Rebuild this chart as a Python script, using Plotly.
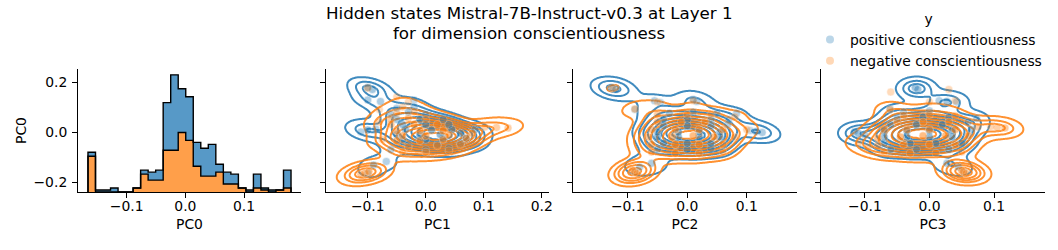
import numpy as np
import plotly.graph_objects as go

# ---------------- data ----------------
TITLE_LINES = ["Hidden states Mistral-7B-Instruct-v0.3 at Layer 1", "for dimension conscientiousness"]
hue_labels = ["positive conscientiousness", "negative conscientiousness"]
legend_title = "y"
dim_names = ["PC0", "PC1", "PC2", "PC3"]

# x tick labels per panel
p1_ticks = [-0.1, 0.0, 0.1]
p1_ticktext = ["−0.1", "0.0", "0.1"]
p2_ticks = [-0.1, 0.0, 0.1, 0.2]
p2_ticktext = ["−0.1", "0.0", "0.1", "0.2"]
p3_ticks = [-0.1, 0.0, 0.1]
p3_ticktext = ["−0.1", "0.0", "0.1"]
p4_ticks = [-0.1, 0.0, 0.1]
p4_ticktext = ["−0.1", "0.0", "0.1"]
y_ticks = [-0.2, 0.0, 0.2]
y_ticktext = ["−0.2", "0.0", "0.2"]

# PC0 histogram (stacked step), 27 bins
hist_lo, hist_hi, hist_nbins = -0.166, 0.180, 27
hist_pos_counts = [2, 1, 1, 2, 0, 0, 0, 2, 4, 5, 24, 38, 22, 22, 12, 14, 16, 4, 6, 5, 0, 1, 7, 1, 1, 0, 9]
hist_neg_counts = [18, 0, 0, 0, 0, 0, 2, 9, 6, 6, 21, 21, 30, 26, 13, 8, 8, 10, 4, 4, 2, 0, 2, 1, 0, 1, 2]

# PC1 vs PC0 : (x, y, weight)
pc1_pos_x = [-0.100, -0.092, -0.100, -0.078, -0.020, -0.100, -0.112, -0.086, -0.100, -0.068, -0.090,
             -0.06, 0.00, 0.04, -0.03, 0.02, 0.06, -0.04, 0.0, 0.03, 0.07, -0.05, -0.01, 0.025, 0.06,
             -0.035, 0.01, 0.045, 0.085, -0.04, 0.0, 0.04, -0.05, -0.01, 0.03, -0.06, -0.03, 0.0, -0.05, -0.02]
pc1_pos_y = [0.178, 0.170, 0.128, 0.122, 0.128, 0.008, 0.000, 0.012, -0.165, -0.118, -0.132,
             -0.07, -0.07, -0.065, -0.05, -0.05, -0.045, -0.03, -0.03, -0.025, -0.025, -0.01, -0.012, -0.01, -0.005,
             0.01, 0.008, 0.01, 0.01, 0.03, 0.03, 0.03, 0.05, 0.05, 0.05, 0.07, 0.08, 0.07, 0.095, 0.1]
pc1_pos_w = [5, 4, 3, 3, 1, 5, 2, 2, 2, 2, 2,
             2, 2, 2, 2, 4, 3, 4, 9, 12, 6, 4, 11, 16, 9,
             5, 11, 9, 4, 5, 7, 5, 4, 5, 3, 3, 3, 2, 2, 2]
pc1_neg_x = [-0.105, -0.098, -0.112, -0.100, -0.050, -0.030, 0.142, 0.122, 0.102, -0.08, -0.075,
             -0.04, 0.0, 0.04, -0.03, 0.02, 0.06, -0.05, -0.01, 0.03, 0.07, -0.04, 0.0, 0.04, 0.08,
             -0.05, -0.01, 0.03, -0.06, -0.02, 0.02, -0.06, -0.03, 0.0, -0.05, -0.02, -0.08, -0.04]
pc1_neg_y = [-0.165, -0.158, -0.170, 0.176, 0.140, 0.120, 0.016, 0.018, 0.020, 0.04, -0.03,
             -0.08, -0.08, -0.075, -0.06, -0.055, -0.05, -0.035, -0.035, -0.03, -0.025, -0.015, -0.015, -0.012, -0.005,
             0.005, 0.005, 0.005, 0.03, 0.03, 0.03, 0.05, 0.055, 0.05, 0.075, 0.08, 0.09, 0.1]
pc1_neg_w = [8, 6, 4, 2, 1, 1, 3, 3, 3, 2, 2,
             3, 4, 3, 4, 5, 4, 6, 12, 14, 8, 8, 14, 14, 6,
             6, 10, 10, 4, 6, 5, 3, 3, 3, 2, 2, 1, 1]

# PC2 vs PC0
pc2_pos_x = [-0.127, -0.120, -0.055, -0.045, 0.010, 0.016, -0.088, 0.116, 0.126, 0.106, 0.083, 0.068, 0.070,
             -0.060, -0.080, -0.088,
             -0.05, 0.0, 0.04, -0.04, 0.0, 0.04, -0.05, -0.015, 0.02, 0.055, -0.05, -0.015, 0.02, 0.055,
             -0.04, 0.0, 0.04, -0.04, 0.0, 0.04, -0.03, 0.01, 0.05]
pc2_pos_y = [0.178, 0.170, 0.125, 0.118, 0.130, 0.122, 0.090, 0.002, -0.002, 0.006, 0.075, 0.030, 0.050,
             -0.125, -0.140, -0.160,
             -0.07, -0.07, -0.065, -0.045, -0.045, -0.045, -0.02, -0.02, -0.02, -0.02, 0.0, 0.0, 0.0, 0.0,
             0.025, 0.025, 0.025, 0.05, 0.05, 0.05, 0.075, 0.08, 0.075]
pc2_pos_w = [5, 4, 2, 1, 3, 2, 1, 4, 3, 1, 2, 2, 1,
             3, 2, 1,
             3, 4, 3, 5, 7, 5, 6, 14, 14, 6, 5, 13, 13, 5,
             5, 8, 5, 4, 5, 3, 3, 2, 2]
pc2_neg_x = [-0.125, -0.088, -0.050, 0.010, -0.088, -0.092, -0.084, 0.100, 0.080,
             -0.06, -0.02, 0.02, 0.06, -0.06, -0.02, 0.02, 0.06, -0.065, -0.025, 0.01, 0.045, 0.08,
             -0.06, -0.02, 0.02, 0.06, -0.05, -0.01, 0.03, -0.05, 0.0, 0.04]
pc2_neg_y = [0.176, 0.092, 0.120, 0.125, -0.160, -0.153, -0.166, 0.010, 0.060,
             -0.08, -0.085, -0.085, -0.08, -0.05, -0.05, -0.05, -0.05, -0.02, -0.02, -0.015, -0.02, -0.02,
             0.01, 0.01, 0.01, 0.01, 0.04, 0.04, 0.04, 0.07, 0.07, 0.07]
pc2_neg_w = [2, 3, 1, 1, 8, 6, 4, 2, 2,
             3, 4, 4, 3, 5, 9, 9, 4, 5, 14, 18, 12, 3,
             5, 12, 12, 5, 4, 6, 5, 3, 3, 2]

# PC3 vs PC0
pc3_pos_x = [-0.022, -0.018, 0.027, 0.042, 0.015, -0.061, -0.110, -0.100, -0.116, 0.027, 0.045, 0.053,
             -0.06, -0.02, 0.03, -0.07, -0.03, 0.01, 0.05, -0.07, -0.035, 0.0, 0.035,
             -0.07, -0.035, 0.0, 0.035, 0.065, -0.06, -0.02, 0.02, 0.06, -0.05, -0.01, 0.03, 0.073, -0.04, 0.0]
pc3_pos_y = [0.178, 0.170, 0.122, 0.120, 0.125, 0.092, -0.006, -0.012, 0.002, -0.125, -0.140, -0.160,
             -0.07, -0.07, -0.07, -0.045, -0.045, -0.045, -0.045, -0.02, -0.02, -0.02, -0.02,
             0.005, 0.005, 0.005, 0.005, 0.01, 0.03, 0.03, 0.03, 0.04, 0.055, 0.06, 0.06, 0.055, 0.08, 0.085]
pc3_pos_w = [5, 4, 4, 2, 2, 1, 5, 2, 2, 3, 2, 1,
             3, 4, 3, 4, 7, 7, 3, 5, 12, 14, 8,
             5, 10, 12, 8, 3, 4, 7, 6, 3, 3, 4, 3, 2, 2, 2]
pc3_neg_x = [0.053, 0.050, 0.057, 0.117, 0.105, 0.095, -0.061, -0.060, 0.030, 0.000, 0.040, -0.110, -0.095,
             -0.07, -0.03, 0.01, 0.05, -0.08, -0.04, 0.0, 0.04, -0.08, -0.045, -0.01, 0.025, 0.06,
             -0.07, -0.035, 0.0, 0.04, 0.075, -0.05, -0.01, 0.03, -0.04, 0.0, 0.04]
pc3_neg_y = [-0.160, -0.154, -0.166, 0.016, 0.018, 0.022, 0.090, 0.160, 0.170, 0.120, 0.125, -0.045, -0.060,
             -0.08, -0.085, -0.085, -0.08, -0.055, -0.05, -0.05, -0.05, -0.025, -0.02, -0.015, -0.015, -0.015,
             0.01, 0.01, 0.01, 0.01, 0.02, 0.04, 0.04, 0.04, 0.065, 0.07, 0.065]
pc3_neg_w = [8, 6, 4, 4, 3, 2, 3, 1, 1, 1, 1, 2, 2,
             3, 4, 3, 2, 4, 8, 8, 5, 5, 12, 16, 12, 5,
             5, 11, 11, 7, 3, 4, 6, 5, 3, 3, 2]

# ---------------- styling ----------------
BLUE = "#1f77b4"
ORANGE = "#ff7f0e"
FONT = "DejaVu Sans"
FS = 13.9

W, H = 1058, 250
ML, MT = 78, 69
MB = H - 192
MR = W - 1045
PW = W - ML - MR
PH = H - MT - MB
panel_px = [(0, 223), (248, 471), (495, 719), (743, 967)]
x_ranges = [[-0.183, 0.197], [-0.172, 0.2126], [-0.192, 0.1845], [-0.168, 0.179]]
y_range = [-0.24, 0.252]


def page_y_to_paper(py):
    return (MT + PH - py) / PH


def kde(x, y, w, others_total):
    x = np.asarray(x, float); y = np.asarray(y, float); w = np.asarray(w, float)
    Wt = w.sum()
    mx, my = (w * x).sum() / Wt, (w * y).sum() / Wt
    dx, dy = x - mx, y - my
    cxx = (w * dx * dx).sum() / (Wt - 1)
    cyy = (w * dy * dy).sum() / (Wt - 1)
    cxy = (w * dx * dy).sum() / (Wt - 1)
    f = Wt ** (-1.0 / 6.0)
    cov = np.array([[cxx, cxy], [cxy, cyy]]) * f * f
    bx, by = np.sqrt(cov[0, 0]), np.sqrt(cov[1, 1])
    gx = np.linspace(x.min() - 3 * bx, x.max() + 3 * bx, 150)
    gy = np.linspace(y.min() - 3 * by, y.max() + 3 * by, 150)
    XX, YY = np.meshgrid(gx, gy)
    inv = np.linalg.inv(cov)
    det = np.linalg.det(cov)
    DX = XX[..., None] - x
    DY = YY[..., None] - y
    q = inv[0, 0] * DX * DX + 2 * inv[0, 1] * DX * DY + inv[1, 1] * DY * DY
    dens = (w * np.exp(-0.5 * q)).sum(-1) / (Wt * 2 * np.pi * np.sqrt(det))
    dens *= Wt / (Wt + others_total)  # common_norm
    return gx, gy, dens


def quantile_to_level(dlist, iso):
    values = np.concatenate([np.ravel(d) for d in dlist])
    sv = np.sort(values)[::-1]
    norm = np.cumsum(sv) / values.sum()
    idx = np.searchsorted(norm, 1 - iso)
    return np.take(sv, idx, mode="clip")


fig = go.Figure()

# dummy trace so the base x/y subplot of the diagonal panel exists
fig.add_trace(go.Scatter(x=[None], y=[None], xaxis="x", yaxis="y", showlegend=False, hoverinfo="skip"))

# ---- histogram panel ----
edges = np.linspace(hist_lo, hist_hi, hist_nbins + 1)
neg = np.array(hist_neg_counts, float)
tot = neg + np.array(hist_pos_counts, float)
xs = np.concatenate([[edges[0]], edges, [edges[-1]]])
ys_neg = np.concatenate([[0], neg, [neg[-1]], [0]])
ys_tot = np.concatenate([[0], tot, [tot[-1]], [0]])
fig.add_trace(go.Scatter(x=xs, y=ys_neg, mode="lines", line=dict(shape="hv", color="black", width=1.4),
                         fill="tozeroy", fillcolor="rgba(255,127,14,0.75)", xaxis="x", yaxis="y5",
                         showlegend=False, hoverinfo="skip"))
fig.add_trace(go.Scatter(x=xs, y=ys_tot, mode="lines", line=dict(shape="hv", color="black", width=1.4),
                         fill="tonexty", fillcolor="rgba(31,119,180,0.75)", xaxis="x", yaxis="y5",
                         showlegend=False, hoverinfo="skip"))

panels = [
    (pc1_pos_x, pc1_pos_y, pc1_pos_w, pc1_neg_x, pc1_neg_y, pc1_neg_w),
    (pc2_pos_x, pc2_pos_y, pc2_pos_w, pc2_neg_x, pc2_neg_y, pc2_neg_w),
    (pc3_pos_x, pc3_pos_y, pc3_pos_w, pc3_neg_x, pc3_neg_y, pc3_neg_w),
]
iso = np.linspace(0.05, 1, 10)
for i, (px_, py_, pw_, nx_, ny_, nw_) in enumerate(panels):
    xa = "x%d" % (i + 2)
    ya = "y%d" % (i + 2)
    for xx, yy, ww, c in [(px_, py_, pw_, BLUE), (nx_, ny_, nw_, ORANGE)]:
        op = [min(0.28 + 0.04 * (w - 1), 0.5) for w in ww]
        fig.add_trace(go.Scatter(x=xx, y=yy, mode="markers", xaxis=xa, yaxis=ya,
                                 marker=dict(size=8, color=c, opacity=op, line=dict(width=0.5, color="white")),
                                 showlegend=False, hoverinfo="skip"))
    Wp, Wn = float(np.sum(pw_)), float(np.sum(nw_))
    gxp, gyp, dp = kde(px_, py_, pw_, Wn)
    gxn, gyn, dn = kde(nx_, ny_, nw_, Wp)
    lv = quantile_to_level([dp, dn], iso)[:-1]
    lv = np.maximum.accumulate(lv + np.arange(len(lv)) * 1e-12)
    top = max(dp.max(), dn.max()) * 2 + lv[-1]
    xp = np.concatenate([[0], lv, [top]])
    fp = np.arange(len(xp), dtype=float)
    for gx, gy, d, c in [(gxp, gyp, dp, BLUE), (gxn, gyn, dn, ORANGE)]:
        z = np.interp(d, xp, fp)
        fig.add_trace(go.Contour(x=gx, y=gy, z=z, xaxis=xa, yaxis=ya, autocontour=False,
                                 contours=dict(start=1, end=len(lv), size=1, coloring="lines", showlabels=False),
                                 colorscale=[[0, c], [1, c]], showscale=False, line=dict(width=2),
                                 opacity=0.85, hoverinfo="skip"))

# legend entries
for lab, c in zip(hue_labels, [BLUE, ORANGE]):
    fig.add_trace(go.Scatter(x=[None], y=[None], mode="markers", name=lab, xaxis="x2", yaxis="y2",
                             marker=dict(size=8, color=c, opacity=0.3)))

axis_common = dict(showline=True, linecolor="black", linewidth=1, ticks="outside", ticklen=5, tickwidth=1,
                   tickcolor="black", showgrid=False, zeroline=False, automargin=False,
                   tickfont=dict(family=FONT, size=FS, color="black"))
xticks = [(p1_ticks, p1_ticktext), (p2_ticks, p2_ticktext), (p3_ticks, p3_ticktext), (p4_ticks, p4_ticktext)]
layout = {}
for i in range(4):
    a, b = panel_px[i]
    key = "xaxis" if i == 0 else "xaxis%d" % (i + 1)
    layout[key] = dict(axis_common, domain=[a / PW, b / PW], range=x_ranges[i],
                       tickvals=xticks[i][0], ticktext=xticks[i][1], ticklabelstandoff=-4,
                       anchor="y" if i == 0 else "y%d" % (i + 1),
                       title=dict(text=dim_names[i], font=dict(family=FONT, size=FS, color="black"), standoff=6))
    ykey = "yaxis" if i == 0 else "yaxis%d" % (i + 1)
    layout[ykey] = dict(axis_common, domain=[0, 1], range=y_range, tickvals=y_ticks, ticktext=y_ticktext,
                        anchor="x" if i == 0 else "x%d" % (i + 1), showticklabels=(i == 0),
                        ticklabelstandoff=2)
layout["yaxis"]["title"] = dict(text=dim_names[0], font=dict(family=FONT, size=FS, color="black"), standoff=3)
layout["yaxis5"] = dict(overlaying="y", anchor="x", range=[0, max(tot) * 1.05], visible=False)

title_x = (529 - ML) / PW
fig.update_layout(
    **layout,
    width=W, height=H,
    margin=dict(l=ML, r=MR, t=MT, b=MB, autoexpand=False),
    paper_bgcolor="white", plot_bgcolor="white",
    legend=dict(xref="container", yref="container", x=810 / W, y=1 - 6 / H,
                xanchor="left", yanchor="top", traceorder="normal",
                title=dict(text=legend_title, side="top center", font=dict(family=FONT, size=FS, color="black")),
                font=dict(family=FONT, size=FS, color="black"), bgcolor="rgba(0,0,0,0)"),
    font=dict(family=FONT, size=FS, color="black"),
    annotations=[dict(text=TITLE_LINES[0], xref="paper", yref="paper", x=title_x, y=page_y_to_paper(12.5),
                      xanchor="center", yanchor="middle", showarrow=False,
                      font=dict(family=FONT, size=16.7, color="black")),
                 dict(text=TITLE_LINES[1], xref="paper", yref="paper", x=title_x, y=page_y_to_paper(32.5),
                      xanchor="center", yanchor="middle", showarrow=False,
                      font=dict(family=FONT, size=16.7, color="black"))],
)

# remove the browser's default 8px body margin so the figure starts at the page corner
fig.write_html("out.html", config={"displayModeBar": False},
               post_script="document.body.style.margin='0';")
